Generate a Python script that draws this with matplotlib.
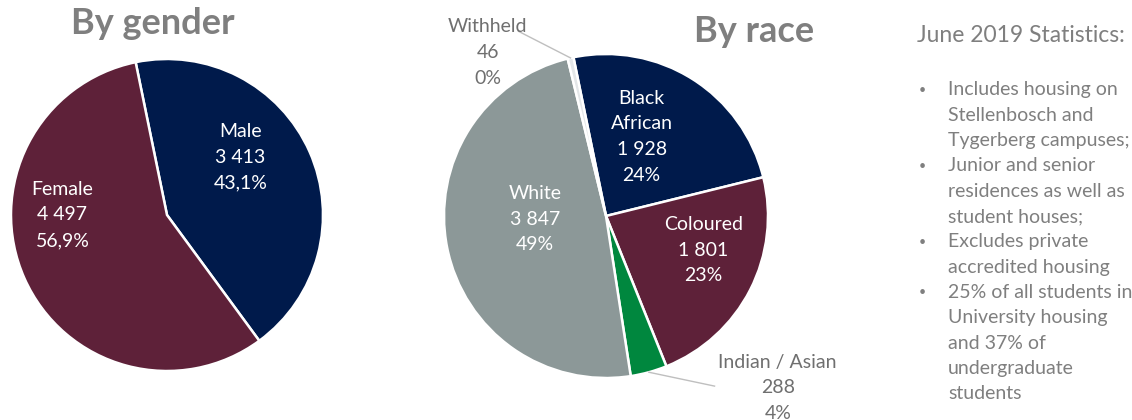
import matplotlib
matplotlib.use("Agg")
import matplotlib.pyplot as plt
import numpy as np

# ---------------- data ----------------
gender_labels = ["Male", "Female"]
gender_counts = [3413, 4497]
gender_pct = ["43,1%", "56,9%"]

race_labels = ["Black\nAfrican", "Coloured", "Indian / Asian", "White", "Withheld"]
race_counts = [1928, 1801, 288, 3847, 46]
race_pct = ["24%", "23%", "4%", "49%", "0%"]

title_gender = "By gender"
title_race = "By race"
side_heading = "June 2019 Statistics:"
side_bullets = [
    ["Includes housing on", "Stellenbosch and", "Tygerberg campuses;"],
    ["Junior and senior", "residences as well as", "student houses;"],
    ["Excludes private", "accredited housing"],
    ["25% of all students in", "University housing", "and 37% of", "undergraduate", "students"],
]

# ---------------- style ----------------
W, H = 1132, 420
FONT = ["Lato", "DejaVu Sans"]
NAVY = "#001A4B"
MAROON = "#5E2139"
GREY = "#8C9898"
GREEN = "#00873E"
LIGHT = "#E3E6E8"
TITLE_GREY = "#7F7F7F"
TEXT_GREY = "#6F6F6F"

gender_colors = [NAVY, MAROON]
race_colors = [NAVY, MAROON, GREEN, GREY, LIGHT]

# layout (pixel space, y measured from bottom)
g_center, g_radius = (167, H - 215), 156
r_center, r_radius = (606, H - 216), 162
start_angle = 101.6
LABEL_FS = 14
LABEL_LS = 1.62

# label positions in units of radius relative to the pie center
g_label_pos = [(0.47, 0.37), (-0.67, 0.0)]
r_label_pos = [(0.22, 0.49), (0.60, -0.21), (1.06, -1.06), (-0.44, -0.02), (-0.73, 1.01)]
r_label_inside = [True, True, False, True, False]
r_leader_end = {2: (0.67, -1.05), 4: (-0.54, 1.14)}

def fmt_count(n):
    return f"{n:,}".replace(",", " ")

plt.rcParams["font.family"] = FONT
fig = plt.figure(figsize=(W / 100, H / 100), dpi=100)
ax = fig.add_axes([0, 0, 1, 1])

# ---- gender pie ----
gw, _ = ax.pie(gender_counts, colors=gender_colors, startangle=start_angle,
               counterclock=False, center=g_center, radius=g_radius,
               wedgeprops=dict(edgecolor="white", linewidth=1.8), frame=True)
# ---- race pie ----
rw, _ = ax.pie(race_counts, colors=race_colors, startangle=start_angle,
               counterclock=False, center=r_center, radius=r_radius,
               wedgeprops=dict(edgecolor="white", linewidth=1.8), frame=True)
ax.set_xlim(0, W)
ax.set_ylim(0, H)
ax.set_aspect("equal")
ax.axis("off")

for i, (lab, n, p) in enumerate(zip(gender_labels, gender_counts, gender_pct)):
    dx, dy = g_label_pos[i]
    ax.text(g_center[0] + dx * g_radius, g_center[1] + dy * g_radius,
            f"{lab}\n{fmt_count(n)}\n{p}", ha="center", va="center",
            color="white", fontsize=LABEL_FS, linespacing=LABEL_LS)

for i, (lab, n, p) in enumerate(zip(race_labels, race_counts, race_pct)):
    dx, dy = r_label_pos[i]
    inside = r_label_inside[i]
    ax.text(r_center[0] + dx * r_radius, r_center[1] + dy * r_radius,
            f"{lab}\n{fmt_count(n)}\n{p}", ha="center", va="center",
            color="white" if inside else TEXT_GREY, fontsize=LABEL_FS,
            linespacing=LABEL_LS)
    if i in r_leader_end:
        w = rw[i]
        mid = np.deg2rad((w.theta1 + w.theta2) / 2)
        x0 = r_center[0] + r_radius * np.cos(mid)
        y0 = r_center[1] + r_radius * np.sin(mid)
        ex, ey = r_leader_end[i]
        ax.plot([x0, r_center[0] + ex * r_radius], [y0, r_center[1] + ey * r_radius],
                color="#BFBFBF", linewidth=1.0)

# ---- titles ----
ax.text(153, H - 24, title_gender, ha="center", va="center", fontsize=26,
        fontweight="bold", color=TITLE_GREY)
ax.text(754, H - 32, title_race, ha="center", va="center", fontsize=26,
        fontweight="bold", color=TITLE_GREY)

# ---- side panel ----
ax.text(917, H - 36, side_heading, ha="left", va="center", fontsize=16.5, color=TITLE_GREY)
y = 90
step = 25.3
for item in side_bullets:
    ax.text(919, H - y, "•", ha="left", va="center", fontsize=9, color=TITLE_GREY)
    for line in item:
        ax.text(948, H - y, line, ha="left", va="center", fontsize=14, color=TITLE_GREY)
        y += step

fig.savefig("out.png", dpi=100)
